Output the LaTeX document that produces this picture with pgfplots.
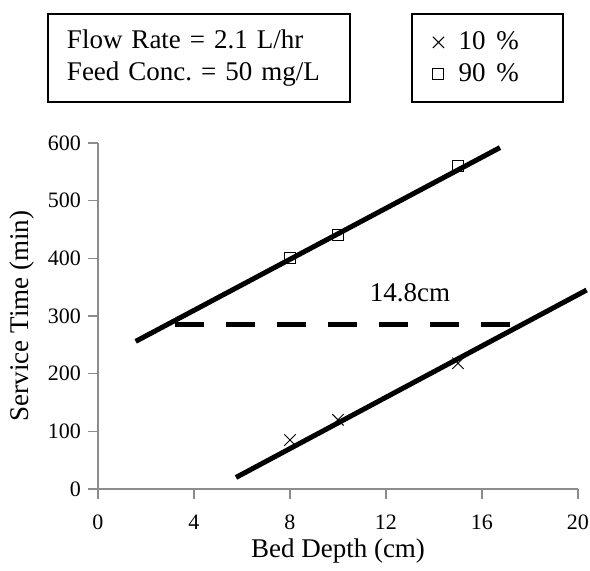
\documentclass[border=0pt]{standalone}
\usepackage{fontspec}
\setmainfont{Liberation Serif}
\usepackage{pgfplots}
\pgfplotsset{compat=1.18}
\definecolor{axisgray}{HTML}{8C8C8C}
\begin{document}
\begin{tikzpicture}
\useasboundingbox (-49pt,-41pt) rectangle (246pt,244.5pt);
\begin{axis}[
  width=240pt, height=173pt, scale only axis,
  xmin=0, xmax=20, ymin=0, ymax=600,
  xtick={0,4,...,20}, ytick={0,100,...,600},
  axis x line*=bottom, axis y line*=left,
  axis line style={draw=axisgray, line width=0.6pt, -},
  tick style={draw=axisgray, line width=0.6pt},
  tick align=outside, major tick length=5pt,
  ticklabel style={font=\fontsize{11}{13}\selectfont},
  xticklabel style={yshift=-4.5pt},
  /pgf/number format/assume math mode=true,
  xlabel={Bed Depth (cm)}, ylabel={Service Time (min)},
  label style={font=\fontsize{13.5}{16}\selectfont},
  xlabel style={at={(axis description cs:0.5,0)}, anchor=center, yshift=-31pt},
  ylabel style={at={(axis description cs:-0.158,0.5)}, anchor=center},
  clip=false,
  legend image code/.code={\draw[#1] plot coordinates {(0pt,0pt)};},
  legend style={at={(axis description cs:0.6542,1.3728)}, anchor=north west,
    draw=none, fill=none, inner xsep=10.2pt, inner ysep=7.5pt,
    row sep=3pt, /tikz/every odd column/.style={column sep=7.2pt},
    nodes={inner sep=0pt, text height=10pt, text depth=3pt,
      font=\fontsize{13.5}{16}\selectfont}},
  legend cell align=left,
]
% fitted lines
\addplot[black, line width=2.5pt, forget plot] coordinates {(1.57,256) (16.75,592)};
\addplot[black, line width=2.5pt, forget plot] coordinates {(5.75,20) (20.36,345)};
\addplot[black, line width=2.5pt, dash pattern=on 14.5pt off 11pt, forget plot] coordinates {(3.2,285) (17.24,285)};
% measured points
\addplot[only marks, mark=x, mark size=4pt, mark options={draw=black, line width=0.5pt}] coordinates {(8,85) (10,120) (15,218)};
\addplot[only marks, mark=square, mark size=2.75pt, mark options={draw=black, fill=white, line width=0.5pt}] coordinates {(8,400) (10,440) (15,560)};
\legend{10\hspace{0.4em}\%, 90\hspace{0.4em}\%}
% legend frame and text box
\draw[line width=0.6pt] (axis description cs:0.6542,1.3728) rectangle (axis description cs:0.96875,1.1185);
\node[font=\fontsize{13.5}{16}\selectfont] at (axis cs:13,340) {14.8cm};
\node[draw, line width=0.6pt, text width=132pt, inner xsep=9.5pt, minimum height=44pt,
  align=left, font=\fontsize{13.5}{16}\selectfont]
  at (axis description cs:0.2104,1.2457) {Flow Rate = 2.1 L/hr\\Feed Conc.\ = 50 mg/L};
\end{axis}
\end{tikzpicture}
\end{document}
